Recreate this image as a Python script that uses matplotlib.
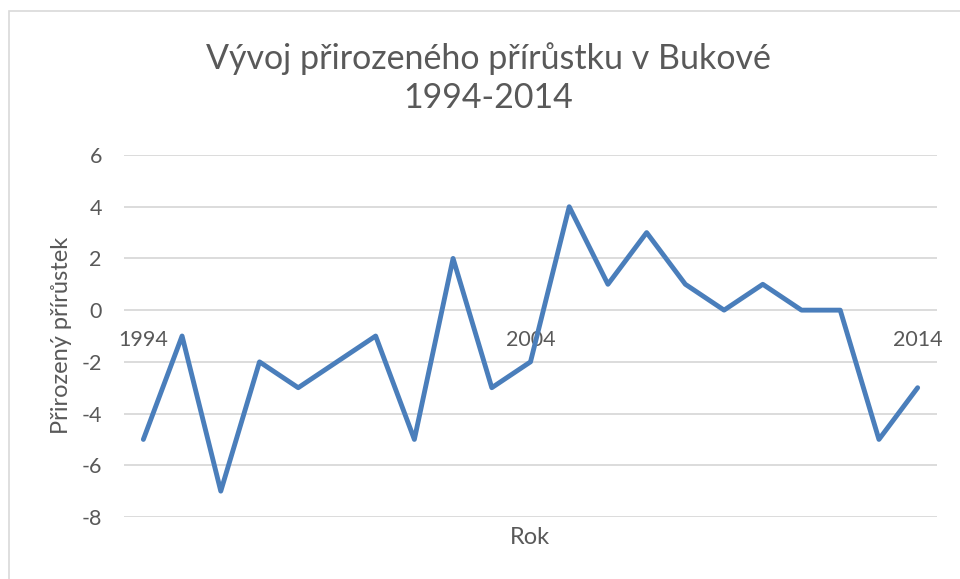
import matplotlib
matplotlib.use("Agg")
import matplotlib.pyplot as plt
from matplotlib.patches import Rectangle

# ===== DATA =====
years = list(range(1994, 2015))
prirustek = [-5, -1, -7, -2, -3, -2, -1, -5, 2, -3, -2, 4, 1, 3, 1, 0, 1, 0, 0, -5, -3]
year_ticks = [1994, 2004, 2014]
y_ticks = [-8, -6, -4, -2, 0, 2, 4, 6]

TEXT = "#595959"
GRID = "#d9d9d9"
LINE = "#4a7ebb"

plt.rcParams["font.family"] = ["Lato", "DejaVu Sans"]

fig = plt.figure(figsize=(9.6, 5.79), dpi=100)

# chart-area border (only top/left visible in the original crop)
fig.patches.append(Rectangle((8.5 / 960, -0.1), 2, (579 - 10.5) / 579 + 0.1,
                             transform=fig.transFigure, fill=False,
                             edgecolor=GRID, lw=1.2))

ax = fig.add_axes([124 / 960, 1 - 517 / 579, (937 - 124) / 960, (517 - 155) / 579])
ax.plot(years, prirustek, color=LINE, lw=3.5, solid_joinstyle="round",
        solid_capstyle="round", zorder=3)

ax.set_xlim(1993.5, 2014.5)
ax.set_ylim(-8, 6)
ax.set_yticks(y_ticks)
ax.set_yticklabels([str(v) for v in y_ticks])
ax.yaxis.grid(True, color=GRID, lw=1.3)
ax.set_axisbelow(True)

# category axis crosses at 0, like Excel
for s in ["top", "right", "left"]:
    ax.spines[s].set_visible(False)
ax.spines["bottom"].set_position(("data", 0))
ax.spines["bottom"].set_visible(False)
ax.set_xticks(year_ticks)
ax.set_xticklabels([str(y) for y in year_ticks])
ax.tick_params(axis="x", length=0, pad=14, labelsize=15.5, labelcolor=TEXT)
ax.tick_params(axis="y", length=0, pad=16, labelsize=15.5, labelcolor=TEXT)

fig.text(488 / 960, 1 - 78 / 579, "Vývoj přirozeného přírůstku v Bukové\n1994-2014",
         ha="center", va="center", fontsize=24.5, color=TEXT, linespacing=1.25)
fig.text(530 / 960, 1 - 538 / 579, "Rok", ha="center", va="center",
         fontsize=17, color=TEXT)
fig.text(62 / 960, 1 - 335 / 579, "Přirozený přírůstek", ha="center", va="center",
         rotation=90, fontsize=17, color=TEXT)

fig.savefig("out.png", dpi=100)
